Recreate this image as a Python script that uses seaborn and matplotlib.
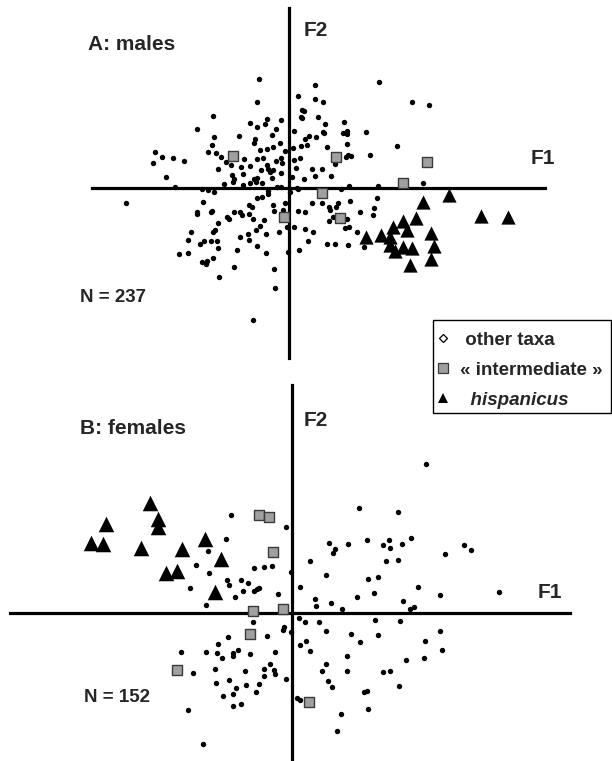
import numpy as np
import matplotlib
matplotlib.use("Agg")
import matplotlib.pyplot as plt
import seaborn as sns
from matplotlib.lines import Line2D
from matplotlib.patches import Rectangle

sns.set_style("white")
plt.rcParams['font.family'] = ['Liberation Sans', 'DejaVu Sans']

# ------------------------------------------------------------------
# factor scores (F1, F2), one list per group
# ------------------------------------------------------------------
males_other = [
    (-30, 109), (-32, 86), (-76, 72), (-8, 68), (-22, 69), (-39, 65), (-24, 64),
    (-32, 61), (-92, 59), (-13, 59), (-17, 53), (-50, 52), (-75, 51), (-34, 49),
    (-35, 45), (-9, 45), (-16, 41), (-77, 43), (-22, 39), (-29, 38), (-134, 36),
    (-81, 36), (-73, 35), (-4, 37), (-127, 31), (-116, 30), (-136, 25), (-105, 27),
    (-68, 31), (-63, 26), (-45, 29), (-32, 29), (-26, 30), (-8, 30), (-13, 27),
    (-58, 23), (-48, 21), (-39, 22), (-22, 23), (-7, 25), (-71, 19), (-28, 18),
    (-16, 18), (-19, 16), (-21, 19), (-8, 15), (-57, 13), (-46, 14), (-123, 11),
    (-55, 9), (-35, 9), (-32, 10), (-17, 10), (-27, 5), (-46, 3), (-65, 4),
    (-39, 5), (-56, 6), (-33, 6), (-12, 1), (-8, 1), (-114, 1),
    (9, 92), (13, 78), (15, 77), (12, 71), (13, 70), (5, 57), (16, 49), (4, 40),
    (12, 42), (18, 43), (11, 30), (5, 28), (7, 20), (3, 11), (15, 9), (26, 103),
    (90, 106), (26, 89), (34, 86), (123, 86), (140, 83), (29, 71), (36, 64),
    (55, 66), (20, 52), (34, 56), (35, 55), (54, 55), (58, 57), (58, 54), (77, 56),
    (27, 51), (58, 44), (38, 41), (108, 42), (57, 31), (59, 33), (62, 32), (81, 33),
    (46, 24), (23, 19), (33, 19), (26, 12), (42, 12), (134, 5), (60, 2), (89, 2),
    (8, 0),
    (-87, -1), (-81, -2), (-75, -4), (-86, -14), (-32, -10), (-27, -9), (-21, -6),
    (-21, -3), (-4, -15), (-16, -17), (-92, -24), (-92, -26), (-78, -24), (-77, -23),
    (-55, -24), (-49, -24), (-47, -27), (-40, -17), (-37, -19), (-40, -26),
    (-62, -29), (-60, -31), (-36, -31), (-25, -32), (-15, -23), (-6, -22),
    (-71, -35), (-29, -38), (-33, -42), (-2, -39), (-98, -44), (-74, -42),
    (-76, -44), (-41, -46), (-23, -46), (-10, -44), (-49, -49), (-40, -52),
    (-101, -52), (-85, -53), (-78, -53), (-72, -53), (-89, -56), (-71, -60),
    (-32, -58), (-1, -64), (-110, -66), (-101, -65), (-52, -62), (-23, -65),
    (-76, -70), (-87, -74), (-83, -76), (-82, -73), (-55, -79), (-15, -81),
    (-70, -89), (-14, -100), (-36, -132), (-163, -15), (1, -4),
    (52, -1), (9, -1), (23, -15), (33, -15), (40, -19), (41, -22), (47, -19),
    (49, -15), (61, -13), (88, -10), (85, -20), (84, -27), (71, -24), (9, -23),
    (16, -24), (44, -29), (58, -31), (40, -33), (5, -39), (16, -41), (24, -44),
    (56, -40), (60, -39), (68, -44), (19, -53), (38, -56), (46, -56), (59, -57),
    (75, -59), (10, -62),
]
males_intermediate = [(-56, 32), (47, 31), (138, 26), (114, 5), (33, -5), (-5, -29), (51, -30)]
males_hispanicus = [
    (160, -7), (134, -14), (127, -30), (114, -33), (104, -39), (118, -42), (77, -49),
    (92, -47), (101, -49), (142, -45), (101, -57), (114, -59), (123, -60), (145, -58),
    (106, -63), (142, -71), (121, -77), (192, -28), (219, -29),
]

females_other = [
    (-61, 98), (-6, 86), (-66, 74), (-84, 62), (-96, 48), (-38, 45), (-28, 46),
    (-20, 47), (-1, 41), (-83, 40), (-65, 33), (-63, 28), (-51, 33), (-44, 30),
    (-35, 24), (-33, 25), (-49, 22), (-102, 25), (-57, 16), (-14, 19), (-86, 8),
    (-38, 22),
    (18, 52), (8, 26), (23, 14), (24, 7), (39, 10), (50, 4), (65, 16), (82, 20),
    (111, 12), (122, 6), (118, 4), (148, 18), (207, 21), (134, 149), (67, 105),
    (106, 101), (75, 73), (37, 70), (43, 64), (41, 60), (56, 69), (91, 68), (97, 73),
    (98, 65), (110, 69), (119, 75), (172, 68), (179, 63), (153, 59), (94, 52),
    (106, 53), (34, 38), (76, 34), (86, 36), (126, 26),
    (-39, -9), (-8, -14), (-9, -17), (-1, -19), (-64, -24), (-25, -23), (-74, -31),
    (-111, -39), (-86, -39), (-75, -40), (-70, -45), (-59, -40), (-59, -43),
    (-54, -37), (-42, -41), (-17, -39), (-22, -51), (-28, -56), (-18, -57),
    (-17, -61), (-77, -56), (-99, -60), (-47, -58), (-28, -63), (-6, -66),
    (-76, -70), (-63, -67), (-56, -75), (-46, -72), (-33, -71), (-36, -79),
    (-69, -83), (-59, -81), (-59, -93), (-51, -91), (-104, -97), (-89, -131),
    (7, -5), (13, -9), (27, -9), (83, -7), (108, -8), (34, -18), (59, -21), (86, -22),
    (148, -18), (14, -28), (8, -32), (68, -29), (133, -28), (18, -38), (150, -37),
    (55, -43), (114, -47), (132, -45), (34, -51), (30, -58), (55, -58), (91, -59),
    (98, -58), (36, -68), (40, -74), (107, -73), (72, -79), (75, -78), (5, -85),
    (8, -87), (76, -96), (49, -101), (45, -118),
]
females_intermediate = [(-33, 98), (-23, 96), (-19, 61), (-39, 2), (-9, 4), (-42, -21), (-115, -57), (17, -89)]
females_hispanicus = [
    (-142, 110), (-186, 89), (-134, 94), (-134, 86), (-201, 70), (-189, 69),
    (-151, 65), (-110, 64), (-87, 74), (-71, 54), (-126, 40), (-115, 42), (-77, 21),
]

# panel extents: view limits, axis-line bounds and tick spacing
top_xlim, top_ylim = (-289, 323), (-573, 188)
top_f1_bounds, top_f2_bounds = (-197, 256), (-170, 180)
top_f1_ticks = [-149, -74.5, 74.5, 149, 223.5]
top_f2_ticks = [117, 58.5, -58.5, -117]

bot_xlim, bot_ylim = (-292, 320), (-148, 613)
bot_f1_bounds, bot_f2_bounds = (-282, 278), (-147, 228)
bot_f1_ticks = [-187, -93.5, 93.5, 187]
bot_f2_ticks = [151, 75.5, -75.5]

DOT = dict(marker="o", color="black", s=15, linewidth=0)
SQ = dict(marker="s", color="#a0a0a0", edgecolor="#3a3a3a", s=50, linewidth=1)
TRI = dict(marker="^", color="black", linewidth=0)

fig = plt.figure(figsize=(6.12, 7.61), dpi=100)


def panel(xlim, ylim, xb, yb, xt, yt, other, inter, hisp, tri_size):
    ax = fig.add_axes([0, 0, 1, 1])
    ax.patch.set_alpha(0)
    ax.set_xlim(*xlim)
    ax.set_ylim(*ylim)
    for side in ["top", "right"]:
        ax.spines[side].set_visible(False)
    ax.spines["left"].set_position("zero")
    ax.spines["bottom"].set_position("zero")
    ax.spines["bottom"].set_bounds(*xb)
    ax.spines["left"].set_bounds(*yb)
    for side in ["left", "bottom"]:
        ax.spines[side].set_linewidth(2.3)
        ax.spines[side].set_color("black")
    ax.set_xticks(xt)
    ax.set_yticks(yt)
    ax.tick_params(direction="out", length=3, width=0.8, color="black",
                   labelleft=False, labelbottom=False)

    o = np.array(other)
    sns.scatterplot(x=o[:, 0], y=o[:, 1], ax=ax, zorder=3, legend=False, **DOT)
    i = np.array(inter)
    sns.scatterplot(x=i[:, 0], y=i[:, 1], ax=ax, zorder=4, legend=False, **SQ)
    h = np.array(hisp)
    sns.scatterplot(x=h[:, 0], y=h[:, 1], ax=ax, zorder=4, legend=False, s=tri_size, **TRI)
    return ax


ax_a = panel(top_xlim, top_ylim, top_f1_bounds, top_f2_bounds, top_f1_ticks, top_f2_ticks,
             males_other, males_intermediate, males_hispanicus, 105)
ax_b = panel(bot_xlim, bot_ylim, bot_f1_bounds, bot_f2_bounds, bot_f1_ticks, bot_f2_ticks,
             females_other, females_intermediate, females_hispanicus, 125)

big = dict(fontsize=15, fontweight="bold", va="center", ha="left")
small = dict(fontsize=13.5, fontweight="bold", va="center", ha="left")

ax_a.text(-201, 143, "A: males", **big)
ax_a.text(15, 158, "F2", **big)
ax_a.text(242, 30, "F1", **big)
ax_a.text(-209, -110, "N = 237", **small)

ax_b.text(-212, 185, "B: females", **big)
ax_b.text(12, 193, "F2", **big)
ax_b.text(246, 21, "F1", **big)
ax_b.text(-208, -84, "N = 152", **small)

# legend: entries without frame, box drawn separately
handles = [
    Line2D([], [], ls="", marker="D", markersize=3.6, mfc="white", mec="black", mew=0.9),
    Line2D([], [], ls="", marker="s", markersize=6.5, mfc="#a0a0a0", mec="#3a3a3a", mew=0.9),
    Line2D([], [], ls="", marker="^", markersize=7, mfc="black", mec="black", mew=0),
]
labels = [" other taxa", "« intermediate »", "  hispanicus"]
leg = fig.legend(handles, labels, loc="upper left",
                 bbox_to_anchor=(428 / 612, 1 - 320 / 761),
                 frameon=False, borderaxespad=0, borderpad=0.61, handlelength=0.4,
                 handletextpad=0.7, labelspacing=0.69,
                 prop=dict(weight="bold", size=13.5))
leg.get_texts()[2].set_style("italic")
fig.add_artist(Rectangle((433 / 612, 1 - 413 / 761), 178 / 612, 93 / 761,
                         transform=fig.transFigure, fill=False, edgecolor="black",
                         linewidth=1))

fig.savefig("out.png", dpi=100)
